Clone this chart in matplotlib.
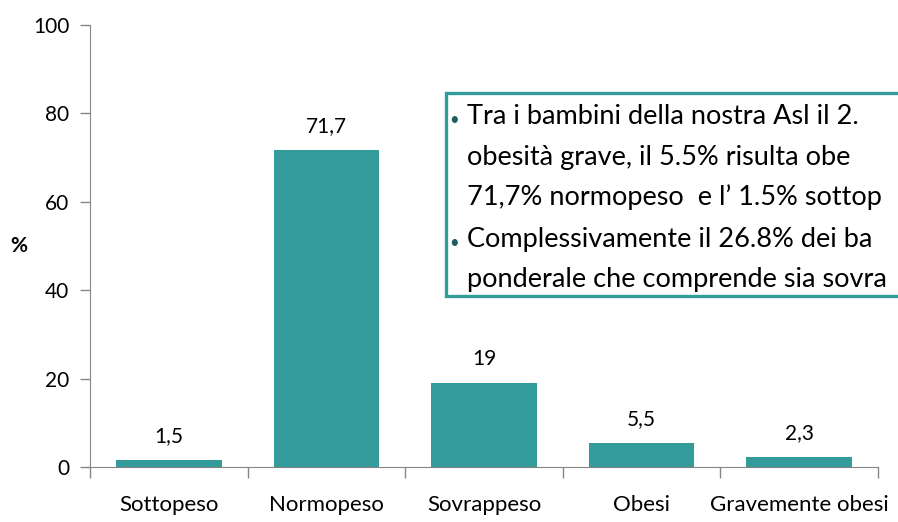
import matplotlib.pyplot as plt
from matplotlib.patches import Rectangle
import numpy as np

categorie = ["Sottopeso", "Normopeso", "Sovrappeso", "Obesi", "Gravemente obesi"]
valori = [1.5, 71.7, 19, 5.5, 2.3]
etichette = ["1,5", "71,7", "19", "5,5", "2,3"]
y_ticks = [0, 20, 40, 60, 80, 100]

# il riquadro nell'originale e' tagliato sul bordo destro
testo_1 = ["Tra i bambini della nostra Asl il 2.",
           "obesità grave, il 5.5% risulta obe",
           "71,7% normopeso  e l\u2019 1.5% sottop"]
testo_2 = ["Complessivamente il 26.8% dei ba",
           "ponderale che comprende sia sovra"]

teal = "#339b99"
grigio = "#868686"
plt.rcParams['font.family'] = ['Lato', 'DejaVu Sans']

fig = plt.figure(figsize=(8.98, 5.22), dpi=100)
ax = fig.add_axes([90 / 898, 55 / 522, 788 / 898, 442 / 522])

x = np.arange(len(categorie))
ax.bar(x, valori, width=0.67, color=teal)
for xi, v, lab in zip(x, valori, etichette):
    ax.annotate(lab, (xi, v), xytext=(0, 10), textcoords='offset points',
                ha='center', va='bottom', fontsize=15)

ax.set_xlim(-0.5, len(categorie) - 0.5)
ax.set_ylim(0, 100)
ax.set_yticks(y_ticks)
ax.set_xticks(x)
ax.set_xticklabels(categorie)
ax.set_xticks(np.arange(-0.5, len(categorie)), minor=True)
ax.tick_params(axis='x', which='major', length=0, pad=20, labelsize=16)
ax.tick_params(axis='x', which='minor', length=8, color=grigio, width=1)
ax.tick_params(axis='y', length=7, color=grigio, width=1, labelsize=15, pad=8)
for s in ['top', 'right']:
    ax.spines[s].set_visible(False)
for s in ['left', 'bottom']:
    ax.spines[s].set_color(grigio)
ax.text(-0.09, 0.5, "%", transform=ax.transAxes, fontsize=15,
        fontweight='bold', ha='center', va='center')

# riquadro di testo
box = Rectangle((446 / 898, 226 / 522), 0.6, 203 / 522, transform=fig.transFigure,
                facecolor='white', edgecolor=teal, linewidth=2.4, zorder=5)
fig.patches.append(box)

righe = [(testo_1, 117), (testo_2, 240)]
for linee, y0 in righe:
    fig.text(454 / 898, 1 - (y0 + 3) / 522, "\u2022", fontsize=12, color='#1f5e5c',
             ha='center', va='center', zorder=6)
    for i, riga in enumerate(linee):
        fig.text(467 / 898, 1 - (y0 + i * 40) / 522, riga, fontsize=19.5,
                 ha='left', va='center', zorder=6)

fig.savefig("out.png", dpi=100)
